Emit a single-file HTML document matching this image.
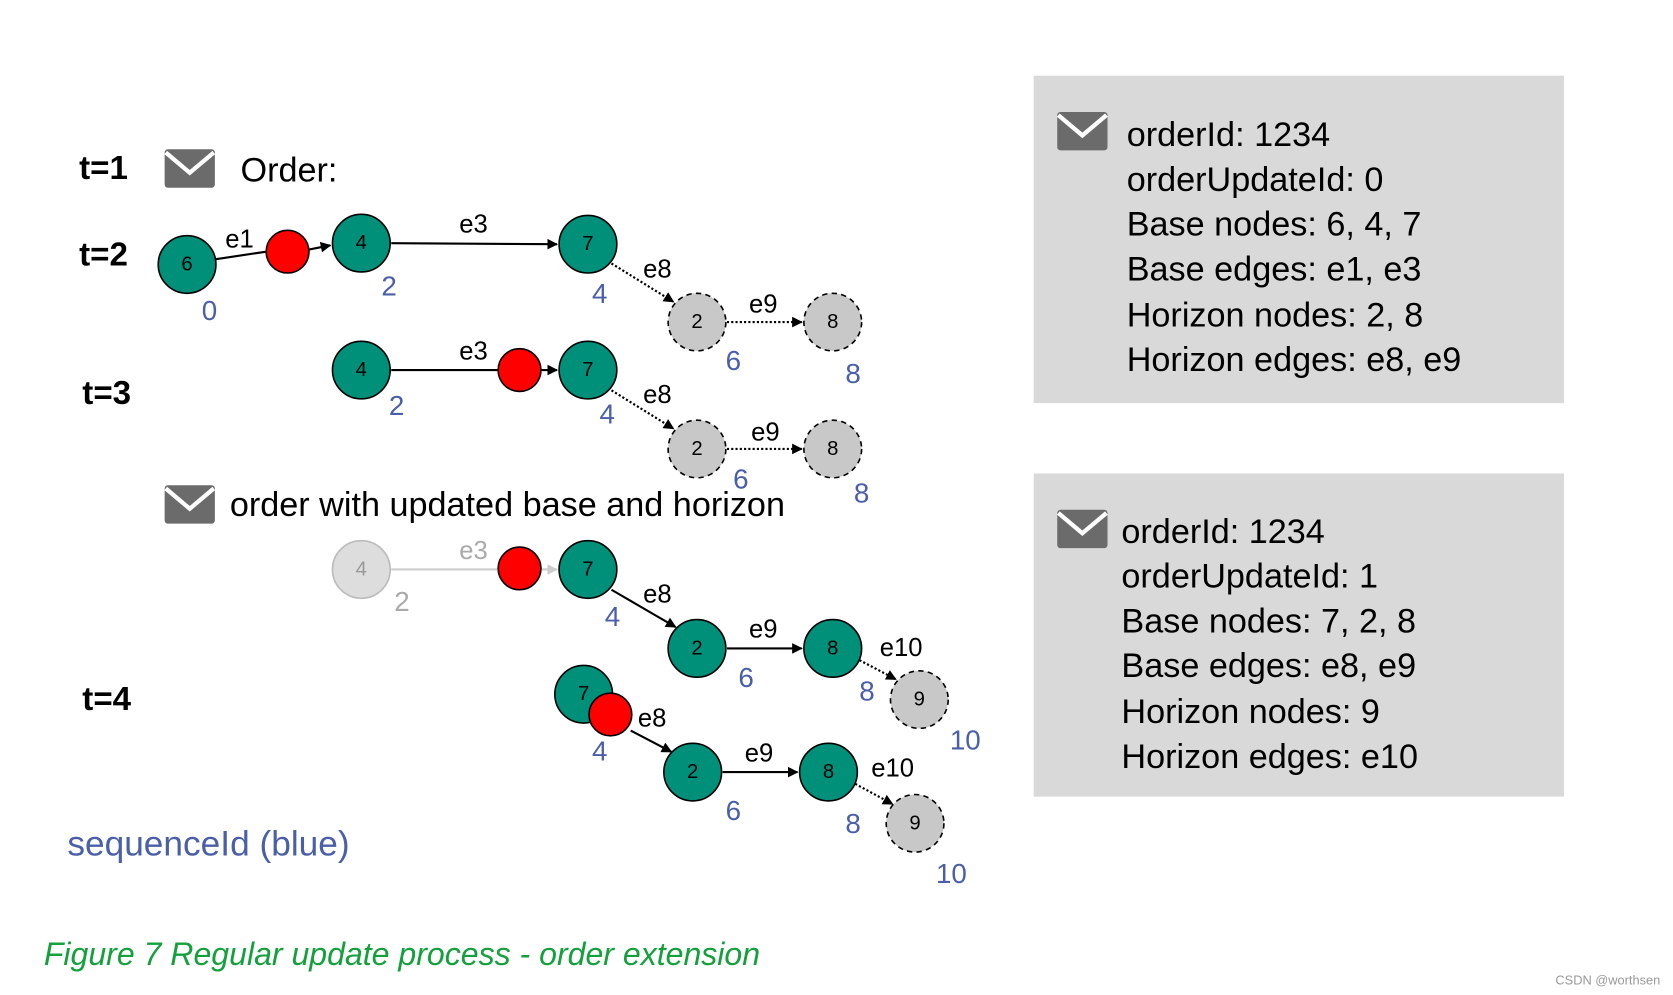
<!DOCTYPE html>
<html><head><meta charset="utf-8"><style>
html,body{margin:0;padding:0;background:#fff;}
svg{display:block;}
text{font-family:"Liberation Sans",Arial,sans-serif;}
</style></head><body>
<svg width="1673" height="995" viewBox="0 0 1565 933" preserveAspectRatio="none" xmlns="http://www.w3.org/2000/svg">
<defs>
<marker id="a" viewBox="0 0 10 10" refX="9" refY="5" markerWidth="5" markerHeight="5" orient="auto"><path d="M0,0L10,5L0,10z" fill="#000"/></marker>
<marker id="ag" viewBox="0 0 10 10" refX="9" refY="5" markerWidth="5" markerHeight="5" orient="auto"><path d="M0,0L10,5L0,10z" fill="#ccc"/></marker>
<g id="env"><rect x="0" y="0" width="47" height="36" rx="3" fill="#6b6b6b"/><path d="M1,3 L23.5,22 L46,3" fill="none" stroke="#fff" stroke-width="4"/></g>
</defs>
<style>
.n{fill:#00907a;stroke:#000;stroke-width:1.5}
.g{fill:#c8c8c8;stroke:#000;stroke-width:1.5;stroke-dasharray:5,4}
.r{fill:#f00;stroke:#000;stroke-width:1.5}
.nt{font-size:19px;text-anchor:middle;dominant-baseline:central}
.b{font-size:26px;fill:#4a5fa8;text-anchor:middle}
.e{font-size:24px;text-anchor:middle}
.t{font-size:31px;font-weight:bold}
.l{stroke:#000;stroke-width:2;fill:none}
.d{stroke:#000;stroke-width:2;fill:none;stroke-dasharray:2,2}
.bx{font-size:32px;fill:#000}
</style>

<text class="t" x="74" y="168">t=1</text>
<text class="t" x="74" y="249">t=2</text>
<text class="t" x="77" y="379">t=3</text>
<text class="t" x="77" y="666">t=4</text>
<use href="#env" x="154" y="140"/>
<text x="225" y="170" font-size="32">Order:</text>

<!-- row t=2 -->
<line class="l" x1="202" y1="243" x2="249" y2="236"/>
<line class="l" x1="289" y1="234" x2="309" y2="230" marker-end="url(#a)"/>
<line class="l" x1="366" y1="228" x2="521" y2="229" marker-end="url(#a)"/>
<line class="d" x1="572" y1="247" x2="630" y2="283" marker-end="url(#a)"/>
<line class="d" x1="680" y1="302" x2="750" y2="302" marker-end="url(#a)"/>
<circle class="n" cx="175" cy="248" r="27"/><text class="nt" x="175" y="248">6</text>
<circle class="r" cx="269" cy="236" r="20"/>
<circle class="n" cx="338" cy="228" r="27"/><text class="nt" x="338" y="228">4</text>
<circle class="n" cx="550" cy="229" r="27"/><text class="nt" x="550" y="229">7</text>
<circle class="g" cx="652" cy="302" r="27"/><text class="nt" x="652" y="302">2</text>
<circle class="g" cx="779" cy="302" r="27"/><text class="nt" x="779" y="302">8</text>
<text class="b" x="196" y="300">0</text><text class="b" x="364" y="277">2</text><text class="b" x="561" y="284">4</text><text class="b" x="686" y="347">6</text><text class="b" x="798" y="359">8</text>
<text class="e" x="224" y="232">e1</text><text class="e" x="443" y="218">e3</text><text class="e" x="615" y="260">e8</text><text class="e" x="714" y="293">e9</text>

<!-- row t=3 -->
<line class="l" x1="366" y1="347" x2="466" y2="347"/>
<line class="l" x1="506" y1="347" x2="521" y2="347" marker-end="url(#a)"/>
<line class="d" x1="572" y1="366" x2="630" y2="402" marker-end="url(#a)"/>
<line class="d" x1="680" y1="421" x2="750" y2="421" marker-end="url(#a)"/>
<circle class="n" cx="338" cy="347" r="27"/><text class="nt" x="338" y="347">4</text>
<circle class="r" cx="486" cy="347" r="20"/>
<circle class="n" cx="550" cy="347" r="27"/><text class="nt" x="550" y="347">7</text>
<circle class="g" cx="652" cy="421" r="27"/><text class="nt" x="652" y="421">2</text>
<circle class="g" cx="779" cy="421" r="27"/><text class="nt" x="779" y="421">8</text>
<text class="b" x="371" y="389">2</text><text class="b" x="568" y="397">4</text><text class="b" x="693" y="458">6</text><text class="b" x="806" y="471">8</text>
<text class="e" x="443" y="337">e3</text><text class="e" x="615" y="378">e8</text><text class="e" x="716" y="413">e9</text>

<use href="#env" x="154" y="455"/>
<text x="215" y="484" font-size="32">order with updated base and horizon</text>

<!-- row 3 -->
<line x1="366" y1="534" x2="466" y2="534" stroke="#ccc" stroke-width="2"/>
<line x1="506" y1="534" x2="521" y2="534" stroke="#ccc" stroke-width="2" marker-end="url(#ag)"/>
<line class="l" x1="572" y1="553" x2="632" y2="588" marker-end="url(#a)"/>
<line class="l" x1="680" y1="608" x2="750" y2="608" marker-end="url(#a)"/>
<line class="d" x1="804" y1="619" x2="838" y2="637" marker-end="url(#a)"/>
<circle cx="338" cy="534" r="27" fill="#ddd" stroke="#bbb" stroke-width="1.5"/><text class="nt" x="338" y="534" fill="#999">4</text>
<circle class="r" cx="486" cy="533" r="20"/>
<circle class="n" cx="550" cy="534" r="27"/><text class="nt" x="550" y="534">7</text>
<circle class="n" cx="652" cy="608" r="27"/><text class="nt" x="652" y="608">2</text>
<circle class="n" cx="779" cy="608" r="27"/><text class="nt" x="779" y="608">8</text>
<circle class="g" cx="860" cy="656" r="27"/><text class="nt" x="860" y="656">9</text>
<text class="b" x="376" y="573" fill="#aaa" style="fill:#aaa">2</text><text class="b" x="573" y="587">4</text><text class="b" x="698" y="644">6</text><text class="b" x="811" y="657">8</text><text class="b" x="903" y="703">10</text>
<text class="e" x="443" y="524" style="fill:#aaa">e3</text><text class="e" x="615" y="565">e8</text><text class="e" x="714" y="598">e9</text><text class="e" x="843" y="615">e10</text>

<!-- row t=4 -->
<line class="l" x1="590" y1="685" x2="628" y2="705" marker-end="url(#a)"/>
<line class="l" x1="676" y1="724" x2="746" y2="724" marker-end="url(#a)"/>
<line class="d" x1="800" y1="735" x2="835" y2="754" marker-end="url(#a)"/>
<circle class="n" cx="546" cy="651" r="27"/><text class="nt" x="546" y="651">7</text>
<circle class="r" cx="571" cy="670" r="20"/>
<circle class="n" cx="648" cy="724" r="27"/><text class="nt" x="648" y="724">2</text>
<circle class="n" cx="775" cy="724" r="27"/><text class="nt" x="775" y="724">8</text>
<circle class="g" cx="856" cy="772" r="27"/><text class="nt" x="856" y="772">9</text>
<text class="b" x="561" y="713">4</text><text class="b" x="686" y="769">6</text><text class="b" x="798" y="781">8</text><text class="b" x="890" y="828">10</text>
<text class="e" x="610" y="681">e8</text><text class="e" x="710" y="714">e9</text><text class="e" x="835" y="728">e10</text>

<text x="63" y="802" font-size="33" fill="#4a5fa8">sequenceId (blue)</text>
<text x="41" y="905" font-size="30" font-style="italic" fill="#14a03c">Figure 7    Regular update process - order extension</text>

<!-- boxes -->
<rect x="967" y="71" width="496" height="307" fill="#d9d9d9"/>
<use href="#env" x="989" y="105" transform="translate(0,0)"/>
<g class="bx"><text class="bx" x="1054" y="137">orderId: 1234</text><text class="bx" x="1054" y="179">orderUpdateId: 0</text><text class="bx" x="1054" y="221">Base nodes: 6, 4, 7</text><text class="bx" x="1054" y="263">Base edges: e1, e3</text><text class="bx" x="1054" y="306">Horizon nodes: 2, 8</text><text class="bx" x="1054" y="348">Horizon edges: e8, e9</text></g>
<rect x="967" y="444" width="496" height="303" fill="#d9d9d9"/>
<use href="#env" x="989" y="478"/>
<text class="bx" x="1049" y="509">orderId: 1234</text><text class="bx" x="1049" y="551">orderUpdateId: 1</text><text class="bx" x="1049" y="593">Base nodes: 7, 2, 8</text><text class="bx" x="1049" y="635">Base edges: e8, e9</text><text class="bx" x="1049" y="678">Horizon nodes: 9</text><text class="bx" x="1049" y="720">Horizon edges: e10</text>

<text x="1455" y="923" font-size="12" fill="#999">CSDN @worthsen</text>
</svg>
</body></html>
